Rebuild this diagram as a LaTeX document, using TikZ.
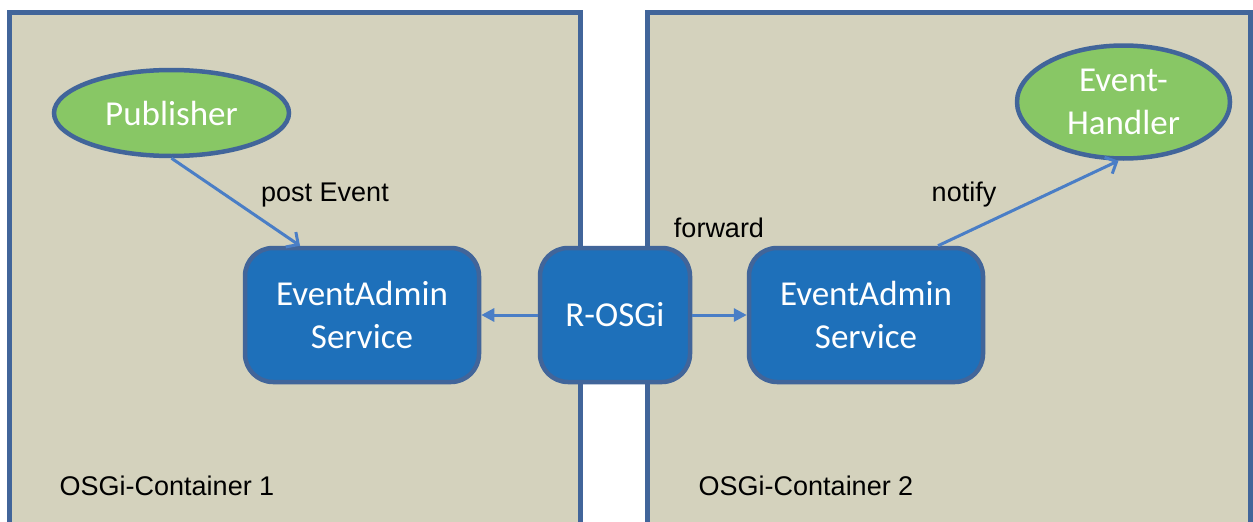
\documentclass[tikz,border=0pt]{standalone}
\usepackage{fontspec}
\usetikzlibrary{shapes.geometric,arrows.meta}
\newfontfamily\boxfont{Carlito}
\newfontfamily\labelfont{Liberation Sans}
\definecolor{frameblue}{HTML}{41659A}
\definecolor{panelbg}{HTML}{D4D2BD}
\definecolor{leafgreen}{HTML}{88C765}
\definecolor{svcblue}{HTML}{1E70BA}
\definecolor{linkblue}{HTML}{4A7EC6}
\tikzset{
  container/.style={draw=frameblue, fill=panelbg, line width=5pt},
  bundle/.style={ellipse, draw=frameblue, fill=leafgreen, line width=4.5pt,
    inner sep=0pt, text=white, align=center,
    font=\boxfont\fontsize{35}{43}\selectfont},
  service/.style={rectangle, rounded corners=28pt, draw=frameblue, fill=svcblue,
    line width=4.5pt, inner sep=0pt, text=white, align=center,
    minimum height=134pt, font=\boxfont\fontsize{35}{43}\selectfont},
  caption/.style={text=black, inner sep=0pt, font=\labelfont\fontsize{27}{32}\selectfont},
  flow/.style={draw=linkblue, line width=3pt},
  call/.style={flow, -{Straight Barb[length=9pt, width=18pt, line width=3pt]}},
  relay/.style={flow, -{Triangle[length=13pt, width=13pt]}}
}
\begin{document}
\begin{tikzpicture}[x=1pt, y=-1pt]
  \useasboundingbox (0,0) rectangle (1253,522);
  \clip (0,0) rectangle (1253,522);
  \fill[white] (0,0) rectangle (1253,522);

  % the two OSGi containers (their lower edges run past the page)
  \draw[container] (9.5,12.5) rectangle (580,560);
  \draw[container] (647.5,12.5) rectangle (1250,560);

  % bundles
  \node[bundle, minimum width=235pt, minimum height=86pt] (pub) at (171.5,113) {Publisher};
  \node[bundle, minimum width=213pt, minimum height=113pt] (eh) at (1123.5,102) {Event-\\Handler};

  % services
  \node[service, minimum width=234pt] (ea1) at (362,315) {EventAdmin\\Service};
  \node[service, minimum width=150pt] (rosgi) at (615,315) {R-OSGi};
  \node[service, minimum width=234pt] (ea2) at (866,315) {EventAdmin\\Service};

  % connectors
  \draw[call] (pub.south) -- ([xshift=-62pt]ea1.north);
  \draw[call] ([xshift=72pt]ea2.north) -- ([xshift=-5pt]eh.south);
  \draw[relay] (rosgi.west) -- (ea1.east);
  \draw[relay] (rosgi.east) -- (ea2.west);

  % labels
  \node[caption] (lpost) at (325,195) {post Event};
  \node[caption] (lnotify) at (964,195) {notify};
  \node[caption] (lfwd) at (719,228) {forward};
  \node[caption] (lc1) at (167,486) {OSGi-Container 1};
  \node[caption] (lc2) at (806,486) {OSGi-Container 2};
\end{tikzpicture}
\end{document}
